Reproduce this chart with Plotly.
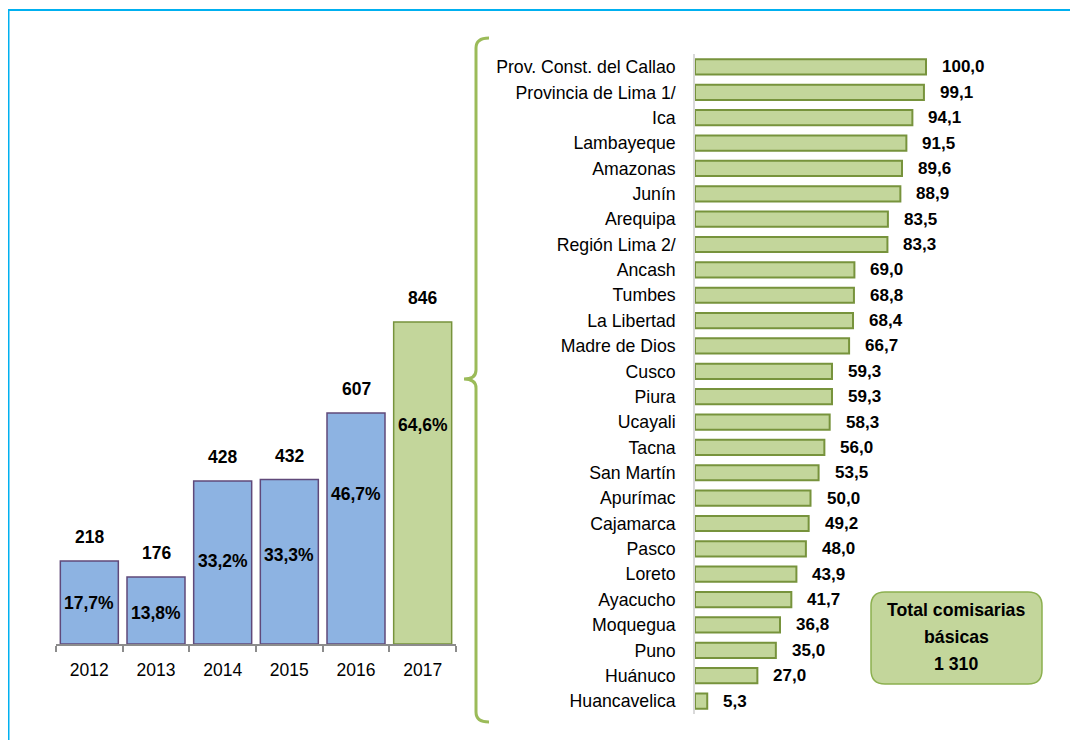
import plotly.graph_objects as go

# ---------------- data ----------------
years = ["2012", "2013", "2014", "2015", "2016", "2017"]
totals = [218, 176, 428, 432, 607, 846]
pcts = [17.7, 13.8, 33.2, 33.3, 46.7, 64.6]

regions = ["Prov. Const. del Callao", "Provincia de Lima 1/", "Ica", "Lambayeque",
           "Amazonas", "Junín", "Arequipa", "Región Lima 2/", "Ancash", "Tumbes",
           "La Libertad", "Madre de Dios", "Cusco", "Piura", "Ucayali", "Tacna",
           "San Martín", "Apurímac", "Cajamarca", "Pasco", "Loreto", "Ayacucho",
           "Moquegua", "Puno", "Huánuco", "Huancavelica"]
region_vals = [100.0, 99.1, 94.1, 91.5, 89.6, 88.9, 83.5, 83.3, 69.0, 68.8,
               68.4, 66.7, 59.3, 59.3, 58.3, 56.0, 53.5, 50.0, 49.2, 48.0,
               43.9, 41.7, 36.8, 35.0, 27.0, 5.3]

box_lines = ["Total comisarias", "básicas", "1 310"]

# ---------------- style ----------------
OFF = 8                      # page body margin
W, H = 1078 - OFF, 740 - OFF
FONT = "Liberation Sans Narrow, Arial Narrow, Liberation Sans, Arial, sans-serif"
BLUE, BLUE_LINE = "#8DB3E2", "#60497A"
GREEN, GREEN_LINE = "#C3D69B", "#77933C"
pct_pos = [0.49, 0.46, 0.51, 0.54, 0.65, 0.68]  # relative height of % labels
box_line_y = [610, 637, 664]


def px(x):
    return (x - OFF) / W


def py(y):
    return 1 - (y - OFF) / H


def fmt(v):
    return f"{v:.1f}".replace(".", ",")


fig = go.Figure()

# left chart
bar_colors = [BLUE] * (len(years) - 1) + [GREEN]
line_colors = [BLUE_LINE] * (len(years) - 1) + [GREEN_LINE]
fig.add_trace(go.Bar(x=years, y=totals, marker=dict(color=bar_colors,
                     line=dict(color=line_colors, width=1.5)),
                     width=0.87, xaxis="x", yaxis="y", hoverinfo="skip"))

# right chart
fig.add_trace(go.Bar(y=regions, x=region_vals, orientation="h",
                     marker=dict(color=GREEN, line=dict(color=GREEN_LINE, width=2)),
                     width=0.6, xaxis="x2", yaxis="y2", hoverinfo="skip"))

annotations = []
for i, (t, p, f) in enumerate(zip(totals, pcts, pct_pos)):
    annotations.append(dict(x=i, y=t, xref="x", yref="y", text=f"<b>{t}</b>",
                            showarrow=False, yanchor="bottom", yshift=12,
                            font=dict(size=17.5, color="#000", family=FONT)))
    annotations.append(dict(x=i, y=t * f, xref="x", yref="y", text=f"<b>{fmt(p)}%</b>",
                            showarrow=False, yanchor="middle",
                            font=dict(size=17.5, color="#000", family=FONT)))
for r, v in zip(regions, region_vals):
    annotations.append(dict(x=v, y=r, xref="x2", yref="y2", text=f"<b>{fmt(v)}</b>",
                            showarrow=False, xanchor="left", xshift=14,
                            font=dict(size=17, color="#000", family=FONT)))

for line, ly in zip(box_lines, box_line_y):
    annotations.append(dict(x=px(956), y=py(ly), xref="paper", yref="paper",
                            text=f"<b>{line}</b>", showarrow=False,
                            font=dict(size=17.7, color="#000", family=FONT),
                            xanchor="center", yanchor="middle"))

# shapes
shapes = []
# frame
shapes.append(dict(type="path", xref="paper", yref="paper",
                   path=f"M {px(8.5)},{py(745)} L {px(8.5)},{py(10)} L {px(1085)},{py(10)}",
                   line=dict(color="#00B0F0", width=2)))
# brace
bx = 476
brace = (f"M {px(489)},{py(38)} Q {px(bx)},{py(38)} {px(bx)},{py(48)} "
         f"L {px(bx)},{py(370)} Q {px(bx)},{py(379)} {px(464)},{py(379)} "
         f"Q {px(bx)},{py(379)} {px(bx)},{py(388)} "
         f"L {px(bx)},{py(712)} Q {px(bx)},{py(722)} {px(489)},{py(722)}")
shapes.append(dict(type="path", xref="paper", yref="paper", path=brace,
                   line=dict(color="#9BBB59", width=3)))
# rounded box
x0, x1, y0, y1, r = 871, 1042, 592, 684, 14
box = (f"M {px(x0 + r)},{py(y0)} L {px(x1 - r)},{py(y0)} Q {px(x1)},{py(y0)} {px(x1)},{py(y0 + r)} "
       f"L {px(x1)},{py(y1 - r)} Q {px(x1)},{py(y1)} {px(x1 - r)},{py(y1)} "
       f"L {px(x0 + r)},{py(y1)} Q {px(x0)},{py(y1)} {px(x0)},{py(y1 - r)} "
       f"L {px(x0)},{py(y0 + r)} Q {px(x0)},{py(y0)} {px(x0 + r)},{py(y0)} Z")
shapes.append(dict(type="path", xref="paper", yref="paper", path=box,
                   fillcolor=GREEN, line=dict(color="#8CB04F", width=1.5), layer="below"))

fig.update_layout(
    width=W, height=H, autosize=False,
    margin=dict(l=0, r=0, t=0, b=0),
    paper_bgcolor="white", plot_bgcolor="rgba(0,0,0,0)",
    showlegend=False, bargap=0.13,
    font=dict(family=FONT, color="#000"),
    xaxis=dict(domain=[px(56), px(456)], range=[-0.5, 5.5], type="category",
               showline=True, linecolor="#8C8C8C", linewidth=1.5,
               ticks="outside", tickson="boundaries", ticklen=6, tickcolor="#8C8C8C",
               tickwidth=1.5, showgrid=False, zeroline=False, ticklabelstandoff=9,
               tickfont=dict(size=17.5, family=FONT, color="#000"), anchor="y"),
    yaxis=dict(domain=[py(644), py(30)], range=[0, 1613], visible=False, anchor="x"),
    xaxis2=dict(domain=[px(695), px(1060)], range=[0, 158], visible=False, anchor="y2"),
    yaxis2=dict(domain=[py(713.7), py(54.3)], range=[25.5, -0.5], type="category",
                categoryorder="array", categoryarray=regions,
                showline=True, linecolor="#D9D9D9", linewidth=1.5, ticks="",
                ticklabelstandoff=14, showgrid=False, zeroline=False,
                tickfont=dict(size=17.7, family=FONT, color="#000"), anchor="x2"),
    annotations=annotations, shapes=shapes,
)

fig.write_html("out.html")
